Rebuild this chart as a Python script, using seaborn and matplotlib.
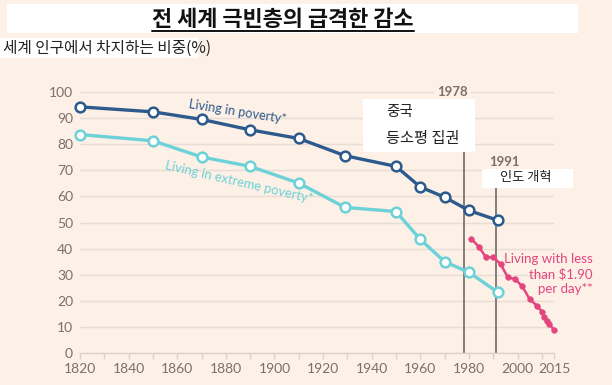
import matplotlib
matplotlib.use("Agg")
import matplotlib.pyplot as plt
from matplotlib.patches import Rectangle
import seaborn as sns
import pandas as pd

# ---- data ----
years_hist = [1820, 1850, 1870, 1890, 1910, 1929, 1950, 1960, 1970, 1980, 1992]
poverty = [94.3, 92.4, 89.5, 85.5, 82.2, 75.6, 71.5, 63.6, 59.7, 54.6, 50.8]
extreme = [83.7, 81.3, 75.1, 71.5, 65.1, 55.8, 54.2, 43.5, 35.0, 30.9, 23.2]
years_wb = [1981, 1984, 1987, 1990, 1993, 1996, 1999, 2002, 2005, 2008, 2010, 2011, 2012, 2013, 2015]
wb = [43.7, 40.8, 36.7, 36.7, 34.1, 29.0, 28.3, 25.5, 20.6, 18.1, 15.9, 13.7, 12.4, 11.2, 8.8]
xtick_labels = [1820, 1840, 1860, 1880, 1900, 1920, 1940, 1960, 1980, 2000, 2015]
yticks = [0, 10, 20, 30, 40, 50, 60, 70, 80, 90, 100]
events = [1978, 1991]

BG = "#FDF0E6"
BLUE = "#2C5A8C"
TEAL = "#6DD2D8"
PINK = "#E3457F"
GRID = "#E8DDD4"
TICK = "#7A716C"
VLINE = "#6E6A68"

sns.set_theme(style="white")
plt.rcParams["font.family"] = ["Lato", "Noto Sans CJK KR", "DejaVu Sans"]
KR = ["Noto Sans CJK KR", "DejaVu Sans"]

W, H = 612, 385
fig = plt.figure(figsize=(W / 100, H / 100), dpi=100, facecolor=BG)
ax = fig.add_axes([80 / W, 1 - 353 / H, (554 - 80) / W, (353 - 92) / H])
ax.set_facecolor(BG)

df_hist = pd.DataFrame({"year": years_hist, "poverty": poverty, "extreme": extreme})
df_wb = pd.DataFrame({"year": years_wb, "wb": wb})

# grid lines
for y in yticks:
    ax.axhline(y, color=GRID, lw=1.0, zorder=0.5)

# event lines
ax.vlines(events[0], 0, 97, color=VLINE, lw=1.2, zorder=1)
ax.vlines(events[1], 0, 70, color=VLINE, lw=1.2, zorder=1)

sns.lineplot(data=df_hist, x="year", y="poverty", ax=ax, color=BLUE, lw=2.4,
             marker="o", markersize=7, markerfacecolor="white",
             markeredgecolor=BLUE, markeredgewidth=1.8, zorder=3, clip_on=False)
sns.lineplot(data=df_hist, x="year", y="extreme", ax=ax, color=TEAL, lw=2.4,
             marker="o", markersize=7, markerfacecolor="white",
             markeredgecolor=TEAL, markeredgewidth=1.8, zorder=3, clip_on=False)
sns.lineplot(data=df_wb, x="year", y="wb", ax=ax, color=PINK, lw=1.8,
             marker="o", markersize=4, markerfacecolor=PINK,
             markeredgecolor=PINK, markeredgewidth=0.5, zorder=3, clip_on=False)

ax.set_xlim(1820, 2015)
ax.set_ylim(0, 100)
ax.set_xlabel("")
ax.set_ylabel("")
for s in ["top", "right", "left"]:
    ax.spines[s].set_visible(False)
ax.spines["bottom"].set_color("#DDD2C9")
ax.spines["bottom"].set_linewidth(1.0)

xt = list(range(1820, 2011, 10)) + [2015]
ax.set_xticks(xt)
ax.set_xticklabels([str(t) if t in xtick_labels else "" for t in xt])
ax.set_yticks(yticks)
ax.tick_params(axis="x", length=4, width=1, color="#DDD2C9", labelsize=10, labelcolor=TICK, pad=3, direction="out", bottom=True)
ax.tick_params(axis="y", length=0, labelsize=10, labelcolor=TICK, pad=5)

# series labels
ax.text(1885, 92.3, "Living in poverty*", color=BLUE, fontsize=9.2, rotation=-9,
        ha="center", va="center", zorder=4)
ax.text(1885.5, 65.6, "Living in extreme poverty*", color=TEAL, fontsize=9.4, rotation=-13,
        ha="center", va="center", zorder=4)
ax.text(2031, 30.3, "Living with less\nthan $1.90\nper day**", color=PINK, fontsize=9.5,
        ha="right", va="center", multialignment="right", linespacing=1.25,
        clip_on=False, zorder=4)

# event year labels
ax.text(1973.2, 100, "1978", color=TICK, fontsize=9.5, fontweight="bold",
        ha="center", va="center", zorder=4,
        bbox=dict(facecolor=BG, edgecolor="none", pad=2.5))
ax.text(1994.5, 73.2, "1991", color=TICK, fontsize=9.5, fontweight="bold",
        ha="center", va="center", zorder=4)

# white boxes (figure pixel coordinates)
def box(x0, y0, x1, y1):
    fig.patches.append(Rectangle((x0 / W, 1 - y1 / H), (x1 - x0) / W, (y1 - y0) / H,
                                 transform=fig.transFigure, facecolor="white",
                                 edgecolor="none", zorder=2))

box(7, 4, 578, 33)
box(0, 38, 198, 58)
box(363, 99, 475, 152)
box(482, 169, 573, 188)

fig.text(283 / W, 1 - 19 / H, "전 세계 극빈층의 급격한 감소", family=KR, fontsize=15.8,
         fontweight="bold", color="#111111", ha="center", va="center", zorder=5)
fig.lines.append(plt.Line2D([152 / W, 414 / W], [1 - 31 / H, 1 - 31 / H],
                            transform=fig.transFigure, color="#111111", lw=1.4, zorder=5))
fig.text(3 / W, 1 - 48 / H, "세계 인구에서 차지하는 비중(%)", family=KR, fontsize=11.3,
         color="#222222", ha="left", va="center", zorder=5)
fig.text(386 / W, 1 - 112 / H, "중국", family=KR, fontsize=10.5,
         color="#222222", ha="left", va="center", zorder=5)
fig.text(386 / W, 1 - 138 / H, "등소평 집권", family=KR, fontsize=11,
         color="#222222", ha="left", va="center", zorder=5)
fig.text(526 / W, 1 - 178 / H, "인도 개혁", family=KR, fontsize=9.5,
         color="#222222", ha="center", va="center", zorder=5)

fig.savefig("out.png", dpi=100, facecolor=BG)
